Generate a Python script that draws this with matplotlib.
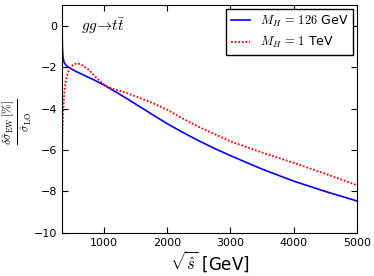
import numpy as np
import matplotlib
matplotlib.use('Agg')
import matplotlib.pyplot as plt

plt.rcParams['mathtext.fontset'] = 'cm'

# values
sqrt_s_126 = [346, 348, 352, 360, 375, 400, 430, 500, 560, 700, 850, 1000, 1250, 1500,
              1750, 2000, 2250, 2500, 2750, 3000, 3500, 4000, 4500, 5000]
dsig_126 = [0.0, -0.6, -1.1, -1.5, -1.75, -1.88, -1.97, -2.1, -2.2, -2.4, -2.62, -2.85,
            -3.3, -3.77, -4.25, -4.72, -5.15, -5.55, -5.92, -6.27, -6.92, -7.5, -8.0, -8.46]

sqrt_s_1tev = [346, 350, 360, 375, 390, 420, 453, 520, 585, 650, 768, 900, 1030, 1150,
               1290, 1500, 1750, 2000, 2200, 2500, 3000, 3500, 4000, 4500, 5000]
dsig_1tev = [-6.4, -5.5, -4.4, -3.5, -2.93, -2.45, -2.13, -1.88, -1.81, -1.88, -2.13,
             -2.55, -2.9, -3.05, -3.17, -3.4, -3.7, -4.05, -4.4, -4.88, -5.58, -6.12,
             -6.62, -7.15, -7.7]

fig = plt.figure(figsize=(3.74, 2.76), dpi=100)
ax = fig.add_axes([0.166, 0.156, 0.789, 0.826])

ax.plot(sqrt_s_126, dsig_126, color='blue', lw=1.2, label=r'$M_H\,=\,126$ GeV')
ax.plot(sqrt_s_1tev, dsig_1tev, color='red', lw=1.3, ls=(0, (1, 1)),
        label=r'$M_H\,=\,1$ TeV')

ax.set_xlim(346, 5000)
ax.set_ylim(-10, 1)
ax.set_xticks([1000, 2000, 3000, 4000, 5000])
ax.set_yticks([0, -2, -4, -6, -8, -10])
ax.tick_params(direction='in', top=True, right=True, labelsize=8, length=4)

ax.set_xlabel(r'$\sqrt{\hat{s}}$ [GeV]', fontsize=12, labelpad=1)
fig.text(17 / 374, 1 - 122 / 276,
         r'$\frac{\delta\hat{\sigma}_{\rm EW}\,[\%]}{\hat{\sigma}_{\rm LO}}$',
         fontsize=12, rotation=90, ha='center', va='center')

ax.text(1000, -0.05, r'$gg\!\rightarrow\! t\bar{t}$', fontsize=11, ha='center', va='center')

leg = ax.legend(loc='upper right', fontsize=9, handlelength=1.5, fancybox=False,
                borderaxespad=0.3, framealpha=1)
leg.get_frame().set_edgecolor('black')

fig.savefig('out.png', dpi=100)
